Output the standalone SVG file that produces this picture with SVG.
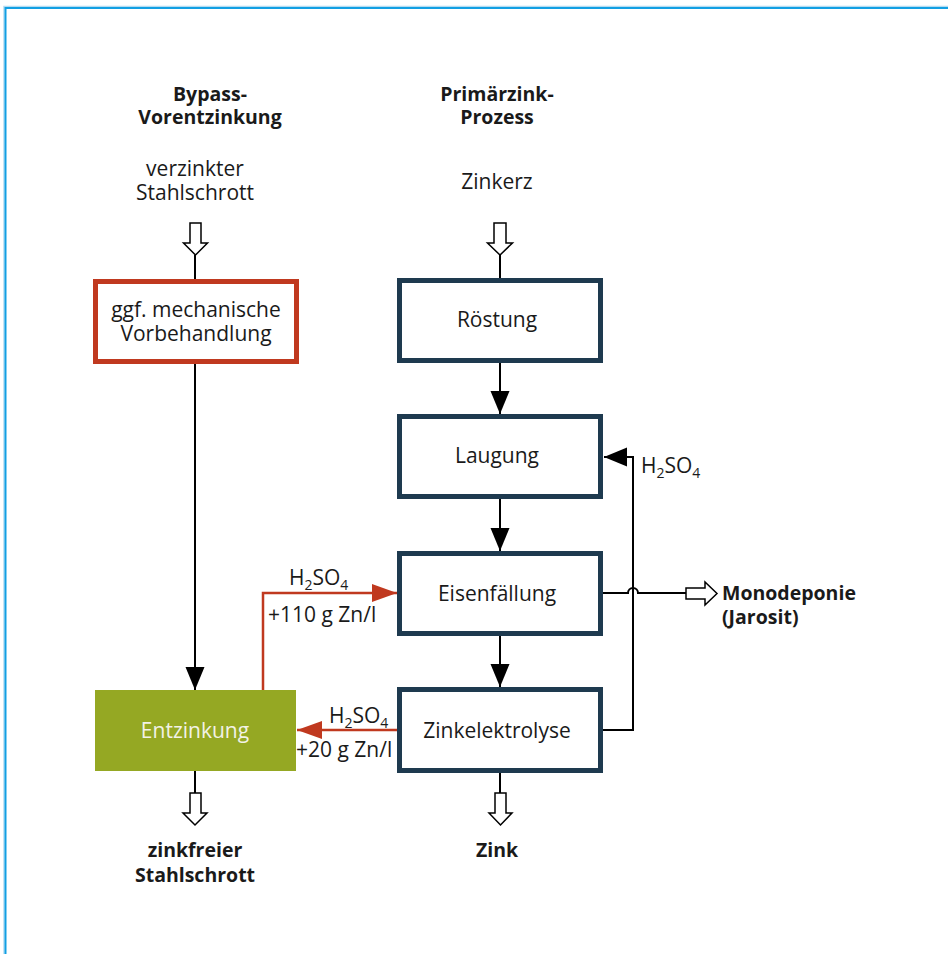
<svg xmlns="http://www.w3.org/2000/svg" width="948" height="954" viewBox="0 0 948 954">
<style>
text{font-family:"Open Sans","Noto Sans","Liberation Sans",sans-serif;font-size:21px;fill:#1a1a1a}
.c{text-anchor:middle}
.b{font-weight:bold;font-size:19.5px}
.box{fill:#fff;stroke:#1e3a4f;stroke-width:5}
.ln{fill:none;stroke:#000;stroke-width:2}
.red{fill:none;stroke:#c0391f;stroke-width:2.5}
.hol{fill:#fff;stroke:#000;stroke-width:1.5}
.sub{font-size:14px}
</style>
<defs>
<marker id="ah" markerUnits="userSpaceOnUse" markerWidth="24" markerHeight="20" refX="23" refY="9.5" orient="auto">
<path d="M0,0 L23,9.5 L0,19 z" fill="#000"/>
</marker>
<marker id="ahr" markerUnits="userSpaceOnUse" markerWidth="26" markerHeight="20" refX="25" refY="9" orient="auto">
<path d="M0,0 L25,9 L0,18 z" fill="#c0391f"/>
</marker>
</defs>
<rect width="948" height="954" fill="#fff"/>
<path d="M4,954 V6.5 H948" fill="none" stroke="#b3dcf2" stroke-width="1.5"/>
<path d="M5.5,954 V8 H948" fill="none" stroke="#129fe3" stroke-width="2"/>

<g id="connectors">
<line class="ln" x1="195" y1="255" x2="195" y2="279"/>
<line class="ln" x1="500" y1="255" x2="500" y2="278"/>
<line class="ln" x1="195" y1="364" x2="195" y2="690" marker-end="url(#ah)"/>
<line class="ln" x1="500" y1="363" x2="500" y2="414" marker-end="url(#ah)"/>
<line class="ln" x1="500" y1="499" x2="500" y2="551" marker-end="url(#ah)"/>
<line class="ln" x1="500" y1="636" x2="500" y2="687" marker-end="url(#ah)"/>
<polyline class="ln" points="603,730 633,730 633,457 604,457" marker-end="url(#ah)"/>
<path class="ln" d="M603,593 H628 A5,5 0 0 1 638,593 H686"/>
<polyline class="red" points="263,690 263,593 397,593" marker-end="url(#ahr)"/>
<line class="red" x1="397" y1="730" x2="297" y2="730" marker-end="url(#ahr)"/>
<line class="ln" x1="195" y1="771" x2="195" y2="793"/>
<line class="ln" x1="500" y1="773" x2="500" y2="793"/>
<path class="hol" d="M190,223 H201 V243 H207.5 L195.5,255 L183.5,243 H190 Z"/>
<path class="hol" d="M494,223 H506 V243 H512.5 L500,255 L487.5,243 H494 Z"/>
<path class="hol" d="M190,793 H201 V813 H207 L195,825 L183,813 H190 Z"/>
<path class="hol" d="M495,793 H506 V813 H512 L500.5,825 L489,813 H495 Z"/>
<path class="hol" d="M686,588 H705 V582 L717,593.5 L705,605 V599 H686 Z"/>
<text x="289" y="585">H<tspan class="sub" dy="5">2</tspan><tspan dy="-5">SO</tspan><tspan class="sub" dy="5">4</tspan></text>
<text x="268" y="622">+110 g Zn/l</text>
<text x="329" y="723">H<tspan class="sub" dy="5">2</tspan><tspan dy="-5">SO</tspan><tspan class="sub" dy="5">4</tspan></text>
<text x="296" y="757">+20 g Zn/l</text>
<text x="641" y="473">H<tspan class="sub" dy="5">2</tspan><tspan dy="-5">SO</tspan><tspan class="sub" dy="5">4</tspan></text>
</g>

<g id="label-bypass"><text class="c b" x="210" y="101">Bypass-</text><text class="c b" x="210" y="124">Vorentzinkung</text></g>
<g id="label-primaer"><text class="c b" x="497" y="101">Primärzink-</text><text class="c b" x="497" y="124">Prozess</text></g>
<g id="input-stahlschrott"><text class="c" x="195" y="176">verzinkter</text><text class="c" x="195" y="200">Stahlschrott</text></g>
<g id="input-zinkerz"><text class="c" x="497" y="189">Zinkerz</text></g>

<g id="node-vorbehandlung">
<rect x="95.5" y="281.5" width="201" height="80" fill="#fff" stroke="#c0391f" stroke-width="5"/>
<text class="c" x="196" y="317">ggf. mechanische</text>
<text class="c" x="196" y="341">Vorbehandlung</text>
</g>
<g id="node-roestung"><rect class="box" x="399.5" y="280.5" width="201" height="80"/><text class="c" x="497" y="327">Röstung</text></g>
<g id="node-laugung"><rect class="box" x="399.5" y="416.5" width="201" height="80"/><text class="c" x="497" y="463">Laugung</text></g>
<g id="node-eisenfaellung"><rect class="box" x="399.5" y="553.5" width="201" height="80"/><text class="c" x="497" y="601">Eisenfällung</text></g>
<g id="node-zinkelektrolyse"><rect class="box" x="399.5" y="689.5" width="201" height="81"/><text class="c" x="497" y="738">Zinkelektrolyse</text></g>
<g id="node-entzinkung"><rect x="95" y="690" width="201" height="81" fill="#95a823"/><text class="c" x="195" y="738" style="fill:#f2f2e6">Entzinkung</text></g>

<g id="output-monodeponie"><text class="b" x="722" y="600">Monodeponie</text><text class="b" x="722" y="624">(Jarosit)</text></g>
<g id="output-stahl"><text class="c b" x="195" y="857">zinkfreier</text><text class="c b" x="195" y="882">Stahlschrott</text></g>
<g id="output-zink"><text class="c b" x="497" y="857">Zink</text></g>
</svg>
